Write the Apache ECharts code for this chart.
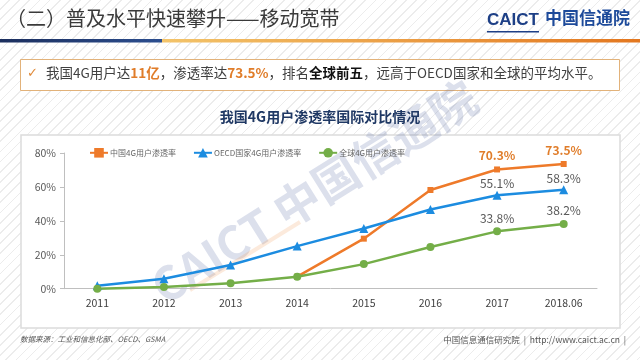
<!DOCTYPE html>
<html>
<head>
<meta charset="utf-8">
<script src="https://cdn.jsdelivr.net/npm/echarts@6/dist/echarts.min.js"></script>
<style>
html,body{margin:0;padding:0;}
#main{width:640px;height:360px;background:repeating-linear-gradient(135deg,#ffffff 0px,#ffffff 6px,#ececec 6px,#ececec 7.2px);}
</style>
</head>
<body>
<div id="main"></div>
<script>
const categories = ['2011','2012','2013','2014','2015','2016','2017','2018.06'];
const seriesNames = ['中国4G用户渗透率','OECD国家4G用户渗透率','全球4G用户渗透率'];
const chinaValues = [null, null, null, 7.1, 29.5, 58.2, 70.3, 73.5];
const oecdValues = [1.8, 5.9, 14.0, 25.1, 35.5, 46.7, 55.1, 58.3];
const globalValues = [0, 1.0, 3.2, 7.1, 14.5, 24.6, 33.8, 38.2];
const labeledIndices = [6, 7];
const yTicks = [0, 20, 40, 60, 80];

const FONT = '"Noto Sans CJK SC", "Noto Sans", sans-serif';

function withLabels(arr) {
  return arr.map((v, i) => labeledIndices.includes(i) ? { value: v, label: { show: true } } : v);
}

const chart = echarts.init(document.getElementById('main'), null, { renderer: 'canvas' });

const option = {
  backgroundColor: 'transparent',
  animation: false,
  textStyle: { fontFamily: FONT },
  graphic: [
    // header line
    { type: 'rect', z: 0, shape: { x: 0, y: 39, width: 162, height: 3.5 },
      style: { fill: new echarts.graphic.LinearGradient(0, 0, 1, 0, [{ offset: 0, color: '#1c2f5e' }, { offset: 1, color: '#2c4e8f' }]) } },
    { type: 'rect', z: 0, shape: { x: 162, y: 39, width: 478, height: 3.5 },
      style: { fill: new echarts.graphic.LinearGradient(0, 0, 1, 0, [{ offset: 0, color: '#f3c46a' }, { offset: 1, color: '#e3771f' }]) } },
    // title
    { type: 'text', z: 1, left: 6, top: 8,
      style: { text: '（二）普及水平快速攀升——移动宽带', font: '20px ' + FONT, fill: '#3a3a3a' } },
    // logo
    { type: 'text', z: 1, left: 487, top: 12,
      style: { text: 'CAICT', font: 'bold 17px "Liberation Sans", Arial, sans-serif', fill: '#1d3f86' } },
    { type: 'rect', z: 1, shape: { x: 487, y: 31, width: 52, height: 1.5 }, style: { fill: '#1d3f86' } },
    { type: 'text', z: 1, left: 545, top: 9,
      style: { text: '中国信通院', font: 'bold 17px ' + FONT, fill: '#1d4a9a' } },
    // callout box
    { type: 'rect', z: 0, shape: { x: 20.5, y: 59.5, width: 599, height: 31 },
      style: { fill: '#ffffff', stroke: '#e2b27a', lineWidth: 1 } },
    { type: 'text', z: 1, left: 27, top: 67,
      style: { text: '✓', font: '13px "DejaVu Sans", sans-serif', fill: '#e08a3a' } },
    { type: 'text', z: 1, left: 46, top: 66,
      style: {
        text: '{n|我国4G用户达}{o|11亿}{n|，渗透率达}{o|73.5%}{n|，排名}{b|全球前五}{n|，远高于OECD国家和全球的平均水平。}',
        rich: {
          n: { fontSize: 13.5, fontFamily: FONT, fill: '#404040' },
          o: { fontSize: 13.5, fontFamily: FONT, fontWeight: 'bold', fill: '#e07d2a' },
          b: { fontSize: 13.5, fontFamily: FONT, fontWeight: 'bold', fill: '#111111' }
        }
      } },
    // chart title
    { type: 'text', z: 1, left: 'center', top: 110,
      style: { text: '我国4G用户渗透率国际对比情况', font: 'bold 14px ' + FONT, fill: '#1f3864' } },
    // panel
    { type: 'rect', z: -1, shape: { x: 21, y: 135, width: 599, height: 193 },
      style: { fill: '#ffffff', stroke: '#dcdcdc', lineWidth: 1.5 } },
    // watermark
    { type: 'text', z: 0, x: 314, y: 192, rotation: 0.56,
      style: { text: 'CAICT 中国信通院', font: 'bold 46px ' + FONT, fill: 'rgba(95,115,170,0.22)', align: 'center', verticalAlign: 'middle' } },
    { type: 'line', z: 0, shape: { x1: 190, y1: 290, x2: 300, y2: 222 },
      style: { stroke: 'rgba(240,150,80,0.2)', lineWidth: 4 } },
    // footer
    { type: 'text', z: 1, left: 20, top: 335,
      style: { text: '数据来源：工业和信息化部、OECD、GSMA', font: 'italic 7.5px ' + FONT, fill: '#555555' } },
    { type: 'text', z: 1, right: 14, top: 336,
      style: { text: '中国信息通信研究院  |  http://www.caict.ac.cn  |', font: '8.5px ' + FONT, fill: '#555555' } }
  ],
  legend: {
    left: 84, top: 143,
    itemWidth: 18, itemHeight: 12, itemGap: 17,
    textStyle: { fontSize: 8, color: '#666666', fontFamily: FONT, padding: [0, 0, 0, -3] },
    data: seriesNames
  },
  grid: { left: 64, right: 43, top: 153, bottom: 71.3, containLabel: false },
  xAxis: {
    type: 'category',
    data: categories,
    boundaryGap: true,
    axisLine: { lineStyle: { color: '#bfbfbf', width: 1 } },
    axisTick: { show: false },
    axisLabel: { color: '#404040', fontSize: 10.5, margin: 9, fontFamily: FONT }
  },
  yAxis: {
    type: 'value',
    min: yTicks[0], max: yTicks[yTicks.length - 1], interval: 20,
    axisLine: { show: true, lineStyle: { color: '#bfbfbf', width: 1 } },
    axisTick: { show: true, length: 4, lineStyle: { color: '#bfbfbf' } },
    splitLine: { show: false },
    axisLabel: { formatter: '{value}%', color: '#595959', fontSize: 10.5, margin: 8, fontFamily: FONT }
  },
  series: [
    {
      name: seriesNames[0], type: 'line', data: withLabels(chinaValues),
      symbol: 'rect', symbolSize: 6, connectNulls: false,
      lineStyle: { color: '#ee7a2a', width: 2.5 },
      itemStyle: { color: '#ee7a2a' },
      label: { show: false, position: 'top', distance: 5, formatter: p => p.value.toFixed(1) + '%',
        color: '#e07d2a', fontWeight: 'bold', fontSize: 12, fontFamily: FONT }
    },
    {
      name: seriesNames[1], type: 'line', data: withLabels(oecdValues),
      symbol: 'triangle', symbolSize: 9,
      lineStyle: { color: '#1c8ce0', width: 2.5 },
      itemStyle: { color: '#1c8ce0' },
      label: { show: false, position: 'top', distance: 1, formatter: p => p.value.toFixed(1) + '%',
        color: '#595959', fontSize: 12, fontFamily: FONT }
    },
    {
      name: seriesNames[2], type: 'line', data: withLabels(globalValues),
      symbol: 'circle', symbolSize: 8,
      lineStyle: { color: '#74ae48', width: 2.5 },
      itemStyle: { color: '#74ae48' },
      label: { show: false, position: 'top', distance: 3, formatter: p => p.value.toFixed(1) + '%',
        color: '#595959', fontSize: 12, fontFamily: FONT }
    }
  ]
};
chart.setOption(option);
</script>
</body>
</html>
